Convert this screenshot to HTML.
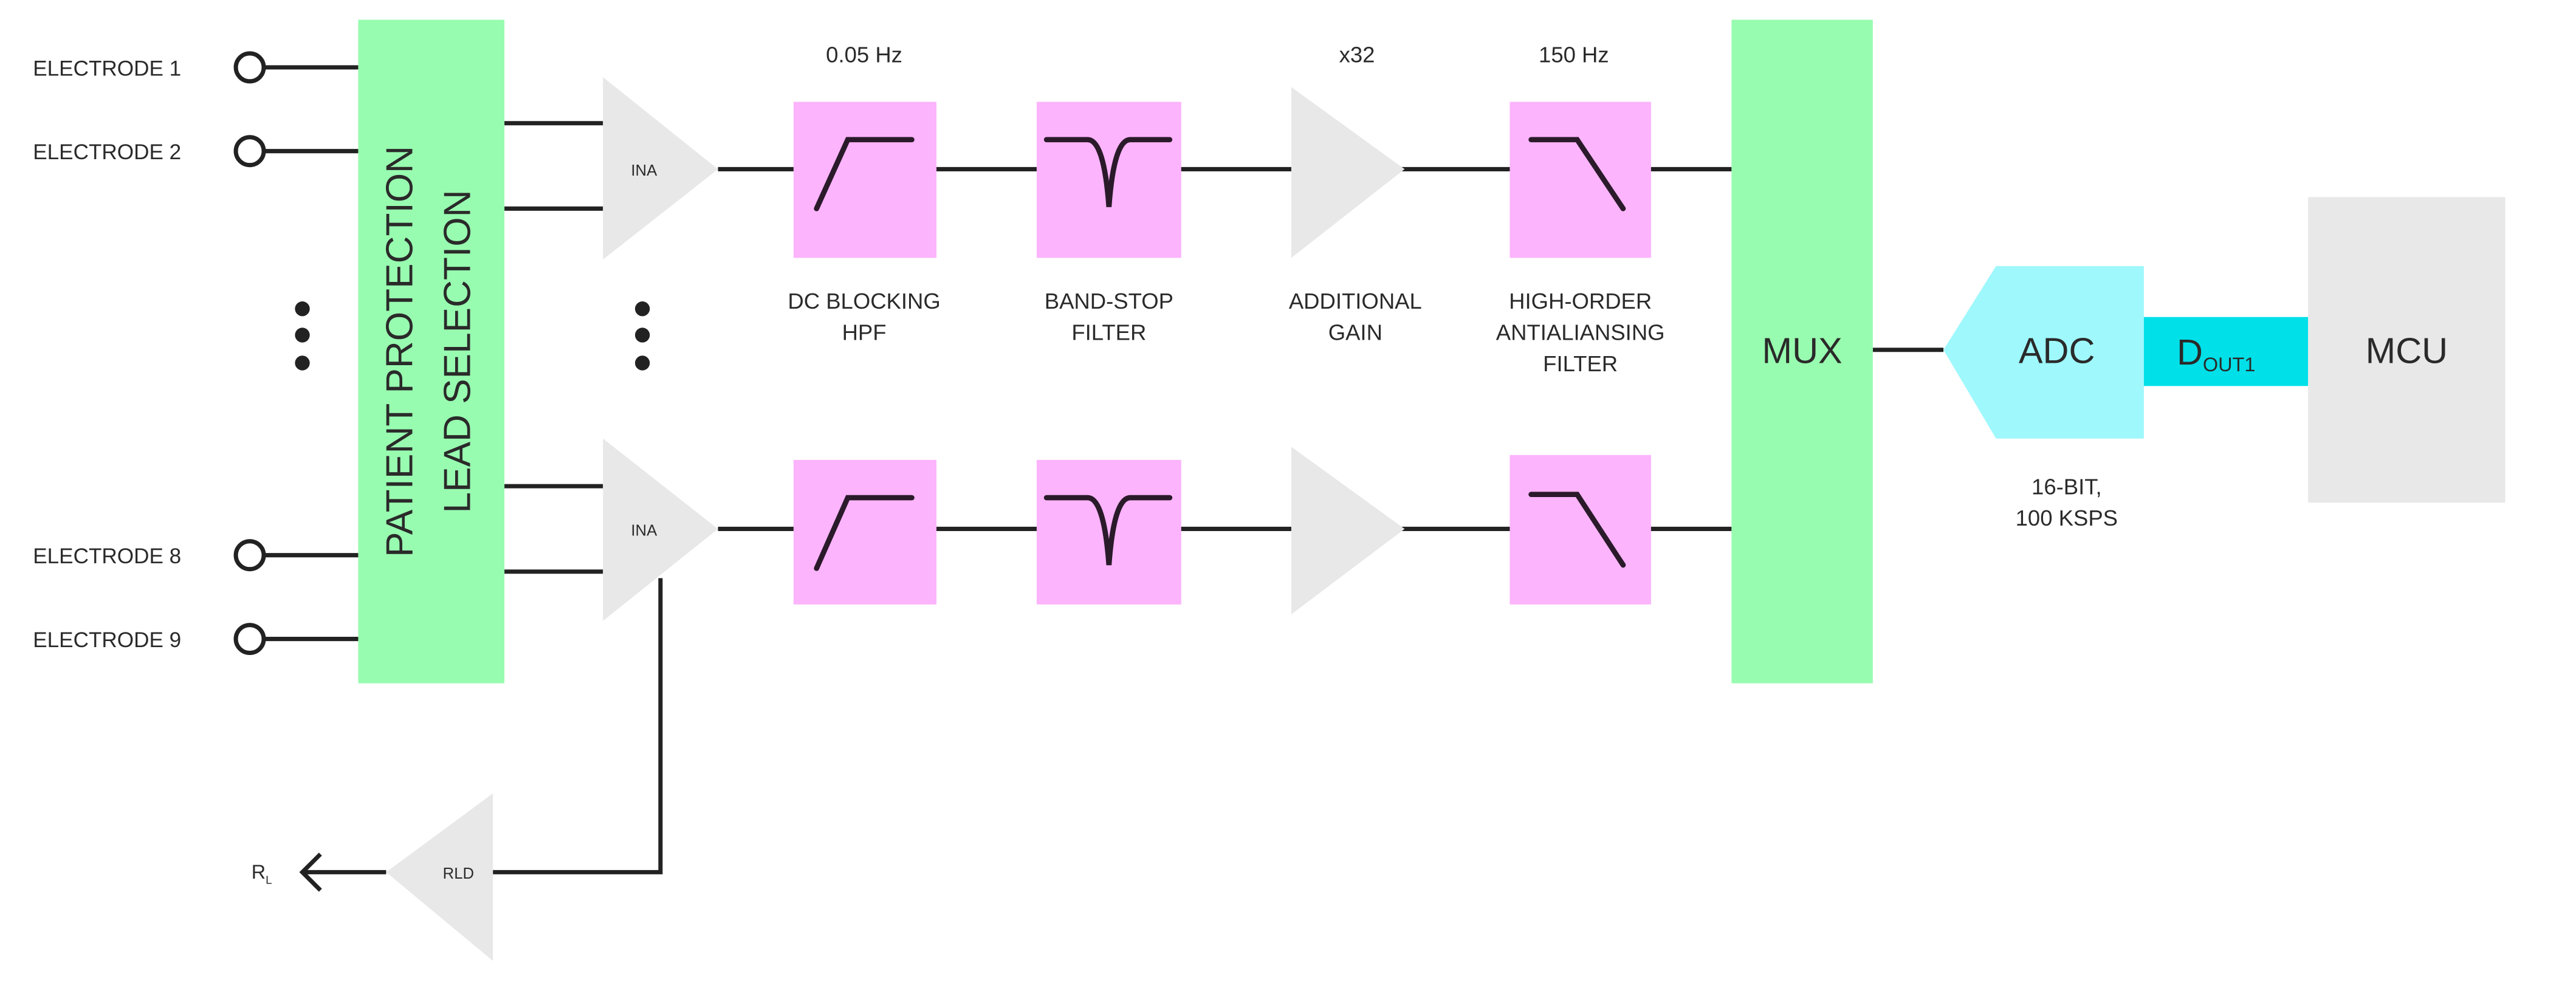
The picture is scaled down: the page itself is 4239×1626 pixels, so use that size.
<!DOCTYPE html>
<html><head><meta charset="utf-8"><style>
html,body{margin:0;padding:0;background:#fff;width:4239px;height:1626px;overflow:hidden}
svg{display:block}
text{font-family:"Liberation Sans",sans-serif;fill:#2a2a2a}
</style></head><body>
<svg width="4239" height="1626" viewBox="0 0 1568 601.5" xmlns="http://www.w3.org/2000/svg">
<rect width="1568" height="601.5" fill="#fff"/>
<g stroke="#222" stroke-width="2.6" fill="none">
<!-- electrodes -->
<line x1="161" y1="41" x2="218" y2="41"/>
<line x1="161" y1="92" x2="218" y2="92"/>
<line x1="161" y1="338" x2="218" y2="338"/>
<line x1="161" y1="389" x2="218" y2="389"/>
<circle cx="152" cy="41" r="8.5"/>
<circle cx="152" cy="92" r="8.5"/>
<circle cx="152" cy="338" r="8.5"/>
<circle cx="152" cy="389" r="8.5"/>
<!-- to INA -->
<line x1="307" y1="75" x2="367" y2="75"/>
<line x1="307" y1="127" x2="367" y2="127"/>
<line x1="307" y1="296" x2="367" y2="296"/>
<line x1="307" y1="348" x2="367" y2="348"/>
<!-- chains -->
<line x1="437" y1="103" x2="1054" y2="103"/>
<line x1="437" y1="322" x2="1054" y2="322"/>
<line x1="1140" y1="213" x2="1183" y2="213"/>
<!-- feedback -->
<polyline points="402,352 402,531 300,531"/>
<line x1="235" y1="531" x2="184" y2="531"/>
<polyline points="195,520 184,531 195,542"/>
</g>
<!-- green blocks -->
<rect x="218" y="12" width="89" height="404" fill="#98fcb0"/>
<rect x="1054" y="12" width="86" height="404" fill="#98fcb0"/>
<!-- INA triangles -->
<polygon points="367,47 437,103 367,158" fill="#e8e8e8"/>
<polygon points="367,267 437,322 367,378" fill="#e8e8e8"/>
<polygon points="786,53 855,103 786,157" fill="#e8e8e8"/>
<polygon points="786,272 855,322 786,374" fill="#e8e8e8"/>
<polygon points="300,483 235,531 300,585" fill="#e8e8e8"/>
<!-- filter boxes -->
<g fill="#fcb4fc">
<rect x="483" y="62" width="87" height="95"/>
<rect x="631" y="62" width="88" height="95"/>
<rect x="919" y="62" width="86" height="95"/>
<rect x="483" y="280" width="87" height="88"/>
<rect x="631" y="280" width="88" height="88"/>
<rect x="919" y="277" width="86" height="91"/>
</g>
<g stroke="#2a1a2a" stroke-width="3.2" fill="none" stroke-linecap="round">
<polyline points="497,127 516,85 555,85"/>
<path d="M637,85 H662 Q672,85 675,126 Q678,85 688,85 H712"/>
<polyline points="932,85 960,85 988,127"/>
<polyline points="497,346 516,303 555,303"/>
<path d="M637,303 H662 Q672,303 675,344 Q678,303 688,303 H712"/>
<polyline points="932,301 960,301 988,344"/>
</g>
<!-- dots -->
<g fill="#222">
<circle cx="184" cy="188" r="4.5"/><circle cx="184" cy="204" r="4.5"/><circle cx="184" cy="221" r="4.5"/>
<circle cx="391" cy="188" r="4.5"/><circle cx="391" cy="204" r="4.5"/><circle cx="391" cy="221" r="4.5"/>
</g>
<!-- ADC / DOUT / MCU -->
<polygon points="1183,213 1215,162 1305,162 1305,267 1215,267" fill="#9ff8fc"/>
<rect x="1305" y="193" width="100" height="42" fill="#00e0e8"/>
<rect x="1405" y="120" width="120" height="186" fill="#e8e8e8"/>
<!-- text -->
<g font-size="13">
<text x="20" y="46">ELECTRODE 1</text>
<text x="20" y="97">ELECTRODE 2</text>
<text x="20" y="343">ELECTRODE 8</text>
<text x="20" y="394">ELECTRODE 9</text>
</g>
<g font-size="9.5" text-anchor="middle">
<text x="392" y="107">INA</text>
<text x="392" y="326">INA</text>
<text x="279" y="535">RLD</text>
</g>
<text x="153" y="535" font-size="12">R<tspan font-size="7" dy="3">L</tspan></text>
<text transform="translate(251,214) rotate(-90)" font-size="23" text-anchor="middle" fill="#111">PATIENT PROTECTION</text>
<text transform="translate(286,214) rotate(-90)" font-size="23" text-anchor="middle" fill="#111">LEAD SELECTION</text>
<g font-size="13.5" text-anchor="middle">
<text x="526" y="38">0.05 Hz</text>
<text x="826" y="38">x32</text>
<text x="958" y="38">150 Hz</text>
<text x="526" y="188">DC BLOCKING</text><text x="526" y="207">HPF</text>
<text x="675" y="188">BAND-STOP</text><text x="675" y="207">FILTER</text>
<text x="825" y="188">ADDITIONAL</text><text x="825" y="207">GAIN</text>
<text x="962" y="188">HIGH-ORDER</text><text x="962" y="207">ANTIALIANSING</text><text x="962" y="226">FILTER</text>
<text x="1258" y="301">16-BIT,</text><text x="1258" y="320">100 KSPS</text>
</g>
<g font-size="22" text-anchor="middle" fill="#111">
<text x="1097" y="221">MUX</text>
<text x="1252" y="221">ADC</text>
<text x="1465" y="221">MCU</text>
</g>
<text x="1325" y="222" font-size="22" fill="#111">D<tspan font-size="12" dy="4">OUT1</tspan></text>
</svg>
</body></html>
